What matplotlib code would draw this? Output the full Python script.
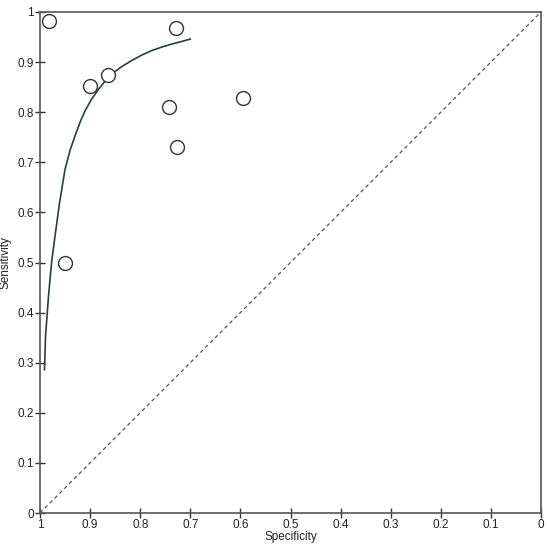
import matplotlib.pyplot as plt
import numpy as np

plt.rcParams['font.family'] = ['Liberation Sans', 'DejaVu Sans']

# study points (specificity, sensitivity)
spec = [0.982, 0.951, 0.901, 0.865, 0.728, 0.743, 0.727, 0.594]
sens = [0.983, 0.499, 0.853, 0.875, 0.969, 0.811, 0.730, 0.828]

# SROC curve
curve_spec = [0.991, 0.989, 0.983, 0.977, 0.970, 0.961, 0.950, 0.940, 0.930,
              0.920, 0.910, 0.897, 0.883, 0.870, 0.857, 0.837, 0.817, 0.797,
              0.777, 0.757, 0.737, 0.718, 0.700]
curve_sens = [0.286, 0.353, 0.433, 0.499, 0.553, 0.619, 0.686, 0.724, 0.753,
              0.780, 0.803, 0.826, 0.846, 0.862, 0.876, 0.891, 0.903, 0.914,
              0.923, 0.930, 0.936, 0.941, 0.946]

xticks = [1, 0.9, 0.8, 0.7, 0.6, 0.5, 0.4, 0.3, 0.2, 0.1, 0]
yticks = [0, 0.1, 0.2, 0.3, 0.4, 0.5, 0.6, 0.7, 0.8, 0.9, 1]

fig = plt.figure(figsize=(5.5, 5.47), dpi=100)
ax = fig.add_axes([40/550, 34/547, 501/550, 501/547])

ax.plot([1, 0], [0, 1], ls=(0, (3, 2.5)), color='#555555', lw=0.9)
ax.plot(curve_spec, curve_sens, color='#2a3f3d', lw=1.2)
ax.plot(spec, sens, 'o', mfc='white', mec='#333333', mew=1.0, ms=10, ls='none')

ax.set_xlim(1, 0)
ax.set_ylim(0, 1)
ax.set_xticks(xticks)
ax.set_yticks(yticks)
ax.set_xticklabels([format(t, 'g') for t in xticks])
ax.set_yticklabels([format(t, 'g') for t in yticks])
ax.tick_params(direction='inout', length=7, width=1, color='#333333',
               labelsize=8.5, labelcolor='#222222', pad=1)
for s in ax.spines.values():
    s.set_color('#555555')
    s.set_linewidth(1.2)

ax.set_xlabel('Specificity', fontsize=8.5, labelpad=0, color='#222222')
ax.set_ylabel('Sensitivity', fontsize=8.5, labelpad=4, color='#222222')

fig.savefig('out.png', dpi=100)
